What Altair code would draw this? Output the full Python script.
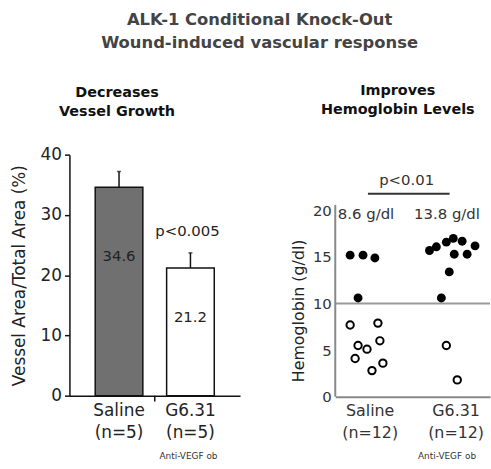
import altair as alt
import pandas as pd

# ---------------- data ----------------
left_groups = ["Saline", "G6.31"]
left_n = ["(n=5)", "(n=5)"]
vessel_mean = [34.6, 21.2]
vessel_err_top = [37.2, 23.7]
vessel_label_y = [23.2, 13.0]

right_groups = ["Saline", "G6.31"]
right_n = ["(n=12)", "(n=12)"]
right_center = [0.4, 1.4]
saline_hb = [15.2, 15.2, 14.9, 10.6, 7.7, 7.9, 5.5, 5.1, 4.1, 6.0, 2.8, 3.6]
saline_jit = [-0.227, -0.077, 0.061, -0.135, -0.227, 0.096, -0.135, -0.031, -0.169, 0.119, 0.027, 0.154]
g631_hb = [15.7, 16.1, 16.6, 17.0, 16.7, 16.2, 15.3, 15.3, 13.4, 10.6, 5.5, 1.8]
g631_jit = [-0.304, -0.224, -0.108, -0.027, 0.076, 0.226, -0.016, 0.134, -0.074, -0.166, -0.108, 0.019]
hb_means = ["8.6 g/dl", "13.8 g/dl"]
hb_mean_x = [0.358, 1.30]
threshold = 10
p_right = "p<0.01"
p_left = "p<0.005"

FONT = "DejaVu Sans"

# ---------------- left panel ----------------
ldf = pd.DataFrame({"group": left_groups, "n": left_n, "mean": vessel_mean,
                    "top": vessel_err_top, "ly": vessel_label_y,
                    "lab": [f"{v:.1f}" for v in vessel_mean]})

label_map = "{" + ",".join(f"'{g}':'{n}'" for g, n in zip(left_groups, left_n)) + "}"
xl = alt.X("group:N", sort=left_groups,
           scale=alt.Scale(paddingInner=0.333, paddingOuter=0.361),
           axis=alt.Axis(title=None, labelAngle=0, ticks=False, labelFont=FONT,
                         labelFontSize=17, labelColor="#222", labelPadding=7,
                         labelLineHeight=22, domainColor="#111", domainWidth=1.5,
                         labelExpr=f"[datum.label, {label_map}[datum.label]]"))
yl = alt.Y("mean:Q", scale=alt.Scale(domain=[0, 40]),
           axis=alt.Axis(title="Vessel Area/Total Area (%)", values=[0, 5, 10, 15, 20, 25, 30, 35, 40],
                         titleFont=FONT, titleFontSize=17, titleFontWeight="normal",
                         titleColor="#222", titlePadding=12, labelFont=FONT,
                         labelFontSize=17, labelColor="#222", labelPadding=3,
                         tickSize=5, tickColor="#111", domainColor="#111",
                         domainWidth=1.5, tickWidth=1.5, grid=False))

base_l = alt.Chart(ldf)
bars = base_l.mark_bar(stroke="#111", strokeWidth=1.5).encode(
    x=xl, y=yl,
    fill=alt.Fill("group:N", scale=alt.Scale(domain=left_groups, range=["#707070", "#ffffff"]), legend=None))
err = base_l.mark_rule(color="#111", strokeWidth=1.5).encode(
    x=alt.X("group:N", sort=left_groups), y="mean:Q", y2="top:Q")
cap = base_l.mark_tick(color="#111", size=4, thickness=1.5).encode(
    x=alt.X("group:N", sort=left_groups), y="top:Q")
blab = base_l.mark_text(font=FONT, fontSize=15, color="#222").encode(
    x=alt.X("group:N", sort=left_groups), y="ly:Q", text="lab:N")
ann_l = pd.DataFrame({"group": ["G6.31", "G6.31"], "y": [27.3, -10.0],
                      "t": [p_left, "Anti-VEGF ob"]})
pl = alt.Chart(ann_l.iloc[[0]]).mark_text(font=FONT, color="#222", dx=-3, fontSize=15).encode(
    x=alt.X("group:N", sort=left_groups), y="y:Q", text="t:N") + \
    alt.Chart(ann_l.iloc[[1]]).mark_text(font=FONT, color="#333", dx=-2, fontSize=9).encode(
    x=alt.X("group:N", sort=left_groups), y="y:Q", text="t:N")
midtick = alt.Chart(pd.DataFrame({"a": [0]})).mark_rule(color="#111", strokeWidth=1.5, xOffset=12).encode(
    x=alt.XDatum("Saline", bandPosition=1), y=alt.value(243), y2=alt.value(249))

left = alt.layer(bars, err, cap, blab, pl, midtick).properties(
    width=172, height=243,
    title=alt.TitleParams(["Decreases", "Vessel Growth"], font=FONT, fontSize=14.5,
                          fontWeight="bold", color="#111", lineHeight=20, offset=26, dx=-38))

# ---------------- right panel ----------------
rdf = pd.DataFrame({
    "x": [right_center[0] + j for j in saline_jit] + [right_center[1] + j for j in g631_jit],
    "hb": saline_hb + g631_hb})
rdf["filled"] = rdf["hb"] > threshold

rmap = "{" + ",".join(f"'{c}':['{g}','{n}']" for c, g, n in zip(right_center, right_groups, right_n)) + "}"
xr_axis = alt.Axis(title=None, values=right_center, ticks=False, grid=False,
                   labelFont=FONT, labelFontSize=16, labelColor="#333", labelPadding=6,
                   labelLineHeight=22, domainColor="#888", domainWidth=2,
                   labelExpr=f"{rmap}[datum.value]")
xr_scale = alt.Scale(domain=[0, 1.8], nice=False)
yr_scale = alt.Scale(domain=[0, 26], nice=False)
yr_axis = alt.Axis(title="Hemoglobin (g/dl)", values=[0, 5, 10, 15, 20], domain=False,
                   ticks=False, grid=False, labelFont=FONT, labelFontSize=15,
                   labelColor="#333", labelPadding=4, titleFont=FONT, titleFontSize=16,
                   titleFontWeight="normal", titleColor="#222", titlePadding=6,
                   titleY=157)

pts_filled = alt.Chart(rdf).transform_filter("datum.filled").mark_point(
    filled=True, color="#000", size=80, opacity=1).encode(
    x=alt.X("x:Q", scale=xr_scale, axis=xr_axis), y=alt.Y("hb:Q", scale=yr_scale, axis=yr_axis))
pts_open = alt.Chart(rdf).transform_filter("!datum.filled").mark_point(
    filled=False, color="#000", size=55, strokeWidth=2, opacity=1).encode(
    x=alt.X("x:Q", scale=xr_scale), y=alt.Y("hb:Q", scale=yr_scale))

dummy = pd.DataFrame({"a": [0]})
yaxis_line = alt.Chart(dummy).mark_rule(color="#888", strokeWidth=2).encode(
    x=alt.XDatum(0, scale=xr_scale), y=alt.YDatum(0, scale=yr_scale), y2=alt.Y2Datum(20.6))
thr_line = alt.Chart(dummy).mark_rule(color="#999", strokeWidth=2).encode(
    x=alt.XDatum(0, scale=xr_scale), x2=alt.X2Datum(1.8), y=alt.YDatum(threshold, scale=yr_scale))
p_line = alt.Chart(dummy).mark_rule(color="#333", strokeWidth=2).encode(
    x=alt.XDatum(0.38, scale=xr_scale), x2=alt.X2Datum(1.33), y=alt.YDatum(21.8, scale=yr_scale))

ann_r = pd.DataFrame({"x": hb_mean_x + [0.83], "y": [19.6, 19.6, 23.3],
                      "t": hb_means + [p_right]})
rtext = alt.Chart(ann_r).mark_text(font=FONT, fontSize=15, color="#333").encode(
    x=alt.X("x:Q", scale=xr_scale), y=alt.Y("y:Q", scale=yr_scale), text="t:N")
rnote = alt.Chart(pd.DataFrame({"x": [1.30], "y": [-6.4], "t": ["Anti-VEGF ob"]})).mark_text(
    font=FONT, fontSize=9, color="#333").encode(
    x=alt.X("x:Q", scale=xr_scale), y=alt.Y("y:Q", scale=yr_scale), text="t:N")

right = alt.layer(thr_line, yaxis_line, p_line, pts_filled, pts_open, rtext, rnote).properties(
    width=156, height=244,
    title=alt.TitleParams(["Improves", "Hemoglobin Levels"], font=FONT, fontSize=14.5,
                          fontWeight="bold", color="#111", lineHeight=20, offset=37, dx=-15))

chart = alt.hconcat(left, right, spacing=50).properties(
    padding={"left": 10, "top": 10, "right": 0, "bottom": 0},
    title=alt.TitleParams(["ALK-1 Conditional Knock-Out", "Wound-induced vascular response"],
                          font=FONT, fontSize=16.5, fontWeight="bold", color="#444",
                          lineHeight=24, anchor="middle", offset=31, dx=9)
).configure_view(stroke=None)

chart.save("out.html", embed_options={"renderer": "svg", "actions": False})
